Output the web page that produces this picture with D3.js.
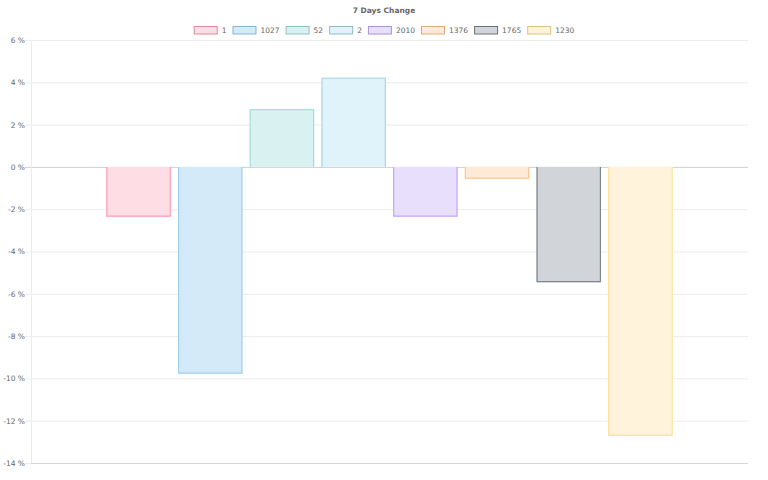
<!DOCTYPE html>
<html><head><meta charset="utf-8">
<script src="https://cdn.jsdelivr.net/npm/d3@7"></script>
<style>body{margin:0;background:#fff}svg{display:block;font-family:"DejaVu Sans",sans-serif}</style>
</head><body><svg id="c" width="768" height="480"></svg>
<script>
const title = "7 Days Change";
const categories = ["7d"];
const seriesNames = ["1","1027","52","2","2010","1376","1765","1230"];
const seriesValues = [-2.36, -9.78, 2.74, 4.22, -2.36, -0.56, -5.45, -12.71];
const fillColors = ["#ffdde4","#d5eaf8","#daf1f1","#e1f3fa","#e8dffd","#ffead8","#d1d5d9","#fff3dc"];
const strokeColors = ["#ff9fb5","#9fd0f3","#a5dfdf","#a8d8e8","#c4a8fd","#ffc592","#7c848c","#ffe194"];
const yTicks = [6,4,2,0,-2,-4,-6,-8,-10,-12,-14];

const FS = 7.5;
const svg = d3.select("#c");
const L = 31, R = 748, T = 40, B = 463;
const x0 = d3.scaleBand().domain(categories).range([L, R]).paddingInner(0).paddingOuter(0.125);
const x1 = d3.scaleBand().domain(seriesNames).range([0, x0.bandwidth()]).paddingInner(0.1).paddingOuter(0.05);
const y = d3.scaleLinear().domain([-14, 6]).range([B, T]);

// grid
const yAxis = d3.axisLeft(y).tickValues(yTicks).tickSize(-(R - L)).tickPadding(6).tickFormat(d => d + " %");
const ga = svg.append("g").attr("transform", `translate(${L},0)`).call(yAxis);
ga.select(".domain").remove();
ga.selectAll(".tick line").attr("stroke", d => d === 0 ? "#d0d0d0" : "#ececec").attr("x1", -6).attr("stroke-width", 1);
ga.selectAll(".tick text").attr("fill", "#666").attr("font-size", FS).attr("font-family", '"DejaVu Sans",sans-serif');
svg.append("line").attr("x1", L + 0.5).attr("x2", L + 0.5).attr("y1", T).attr("y2", B).attr("stroke", "#ececec");
svg.append("line").attr("x1", L).attr("x2", R).attr("y1", B + 0.5).attr("y2", B + 0.5).attr("stroke", "#d8d8d8");

// bars
const data = seriesNames.map((s, i) => ({ s, v: seriesValues[i], i }));
const g = svg.append("g").attr("transform", `translate(${x0(categories[0])},0)`);
const bars = g.selectAll("g.bar").data(data).join("g").attr("class", "bar");
bars.append("rect")
  .attr("x", d => x1(d.s)).attr("width", x1.bandwidth())
  .attr("y", d => y(Math.max(0, d.v))).attr("height", d => Math.abs(y(d.v) - y(0)))
  .attr("fill", d => fillColors[d.i]);
bars.append("path")
  .attr("fill", "none").attr("stroke", d => strokeColors[d.i]).attr("stroke-width", 1.2)
  .attr("d", d => {
    const xa = x1(d.s) + 0.6, xb = x1(d.s) + x1.bandwidth() - 0.6;
    const y0 = y(0), yv = y(d.v) + (d.v < 0 ? -0.6 : 0.6);
    return `M${xa},${y0}V${yv}H${xb}V${y0}`;
  });

// title
svg.append("text").attr("x", 384).attr("y", 13).attr("text-anchor", "middle")
  .attr("font-size", FS).attr("font-weight", "bold").attr("fill", "#666").text(title);

// legend
const lg = svg.append("g");
let cx = 0;
const GAP = 6;
seriesNames.forEach((s, i) => {
  const it = lg.append("g");
  it.append("rect").attr("x", 0.5).attr("y", 26.5).attr("width", 23).attr("height", 7.5)
    .attr("fill", fillColors[i]).attr("stroke", strokeColors[i] === "#7c848c" ? "#6b7178" : d3.color(strokeColors[i]).darker(0.4)).attr("stroke-width", 1);
  const t = it.append("text").attr("x", 28).attr("y", 33).attr("font-size", FS).attr("fill", "#666").text(s);
  const w = 28 + t.node().getComputedTextLength();
  it.attr("transform", `translate(${cx},0)`);
  cx += w + GAP;
});
const total = cx - GAP;
lg.attr("transform", `translate(${384 - total / 2},0)`);
</script></body></html>
